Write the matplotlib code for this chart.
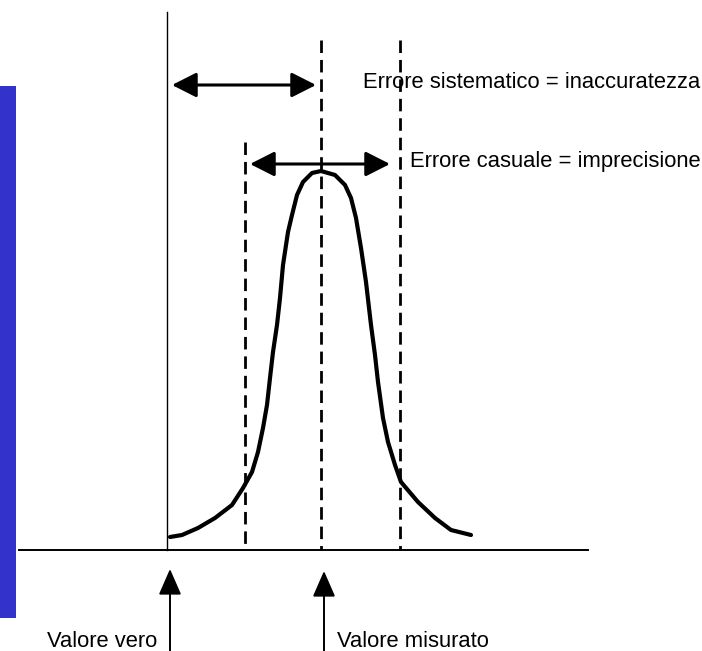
import matplotlib.pyplot as plt
from matplotlib.patches import Rectangle

# positions, in pixel units (x right, y down)
curve_x = [170, 182, 198, 215, 232, 243, 252, 258, 263, 267, 270, 273, 277,
           280, 283, 288, 292, 297, 303, 312, 321, 335, 345, 351, 356, 361,
           366, 371, 375, 378, 383, 388, 395, 401, 418, 435, 451, 471]
curve_y = [537, 535, 528, 518, 505, 488, 472, 452, 428, 405, 378, 352, 325,
           298, 265, 232, 215, 195, 182, 173, 171, 175, 185, 198, 218, 248,
           282, 325, 355, 382, 418, 442, 465, 482, 502, 518, 530, 535]

true_x = 167
measured_x = 321
spread_x = [245, 400]
baseline_y = 550

labels = {
    'sys': 'Errore sistematico = inaccuratezza',
    'rand': 'Errore casuale = imprecisione',
    'true': 'Valore vero',
    'meas': 'Valore misurato',
}

W, H = 702, 651
fig = plt.figure(figsize=(W / 100, H / 100), dpi=100)
ax = fig.add_axes([0, 0, 1, 1])
ax.set_xlim(0, W)
ax.set_ylim(H, 0)
ax.axis('off')

# blue side bar
ax.add_patch(Rectangle((0, 86), 16, 532, color='#3333cc', lw=0))

# axes of the sketch
ax.plot([19, 588], [baseline_y, baseline_y], color='black', lw=1.4)
ax.plot([true_x, true_x], [12, baseline_y], color='black', lw=1.0)

# dashed guides
ax.plot([spread_x[0], spread_x[0]], [142, baseline_y], color='black', lw=2.0,
        dashes=[4.5, 2.5])
ax.plot([measured_x, measured_x], [40, baseline_y], color='black', lw=2.0,
        dashes=[4.5, 2.5])
ax.plot([spread_x[1], spread_x[1]], [40, baseline_y], color='black', lw=2.0,
        dashes=[4.5, 2.5])

# distribution curve
ax.plot(curve_x, curve_y, color='black', lw=3.0, solid_capstyle='round',
        solid_joinstyle='round')

# double arrows
arrow = dict(arrowstyle='<|-|>,head_length=0.75,head_width=0.38', color='black',
             lw=2.2, shrinkA=0, shrinkB=0, mutation_scale=20)
ax.annotate('', xy=(172, 85), xytext=(316, 85), arrowprops=arrow)
ax.annotate('', xy=(250, 164), xytext=(390, 164), arrowprops=arrow)

# up arrows
up = dict(arrowstyle='-|>,head_length=0.8,head_width=0.35', color='black',
          lw=1.4, shrinkA=0, shrinkB=0, mutation_scale=20)
ax.annotate('', xy=(170, 569), xytext=(170, 651), arrowprops=up)
ax.annotate('', xy=(324, 571), xytext=(324, 651), arrowprops=up)

font = dict(family=['Liberation Sans Narrow', 'Liberation Sans', 'DejaVu Sans'],
            fontsize=15.8, color='black')
ax.text(363, 88, labels['sys'], va='baseline', ha='left', **font)
ax.text(410, 167, labels['rand'], va='baseline', ha='left', **font)
ax.text(47, 647, labels['true'], va='baseline', ha='left', **font)
ax.text(337, 647, labels['meas'], va='baseline', ha='left', **font)

fig.savefig('out.png', dpi=100, facecolor='white')
